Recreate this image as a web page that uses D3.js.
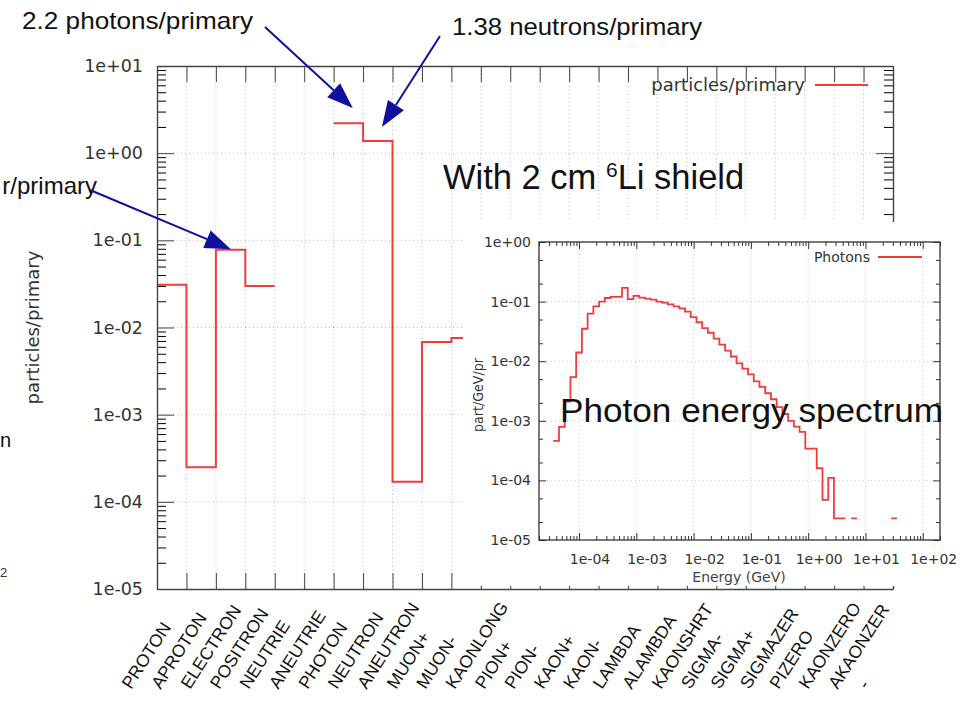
<!DOCTYPE html>
<html>
<head>
<meta charset="utf-8">
<script src="https://cdn.jsdelivr.net/npm/d3@7"></script>
<style>
body { margin: 0; background: #fff; }
svg { display: block; }
</style>
</head>
<body>
<script>
var width = 967, height = 726;

// main histogram: particles per primary, one step per particle type
var particles = ["PROTON", "APROTON", "ELECTRON", "POSITRON", "NEUTRIE", "ANEUTRIE", "PHOTON", "NEUTRON",
    "ANEUTRON", "MUON+", "MUON-", "KAONLONG", "PION+", "PION-", "KAON+", "KAON-", "LAMBDA", "ALAMBDA",
    "KAONSHRT", "SIGMA-", "SIGMA+", "SIGMAZER", "PIZERO", "KAONZERO", "AKAONZER", "-"];
// null = nothing scored (or hidden behind the inset)
var perPrimary = [0.031, 2.5e-4, 0.078, 0.030, null, null, 2.2, 1.38, 1.7e-4, 6.8e-3, 7.6e-3,
    null, null, null, null, null, null, null, null, null, null, null, null, null, null, null];
var mainYTicks = [1e-5, 1e-4, 1e-3, 1e-2, 1e-1, 1, 10];
var mainYLabels = ["1e-05", "1e-04", "1e-03", "1e-02", "1e-01", "1e+00", "1e+01"];

// inset: photon energy spectrum (bin centres in GeV, part/GeV/pr)
var photonEnergy = [3.98e-5, 5.01e-5, 6.31e-5, 7.94e-5, 1.00e-4, 1.26e-4, 1.58e-4, 2.00e-4, 2.51e-4, 3.16e-4,
    3.98e-4, 5.01e-4, 6.31e-4, 7.94e-4, 1.00e-3, 1.26e-3, 1.58e-3, 2.00e-3, 2.51e-3, 3.16e-3,
    3.98e-3, 5.01e-3, 6.31e-3, 7.94e-3, 1.00e-2, 1.26e-2, 1.58e-2, 2.00e-2, 2.51e-2, 3.16e-2,
    3.98e-2, 5.01e-2, 6.31e-2, 7.94e-2, 1.00e-1, 1.26e-1, 1.58e-1, 2.00e-1, 2.51e-1, 3.16e-1,
    3.98e-1, 5.01e-1, 6.31e-1, 7.94e-1, 1.00, 1.26, 1.58, 2.00, 2.51, 3.16,
    3.98, 5.01, 6.31, 7.94, 10.0, 12.6, 15.8, 20.0, 25.1, 31.6];
var photonFlux = [4.6e-4, 7.9e-4, 2.1e-3, 5.4e-3, 1.4e-2, 3.5e-2, 6.3e-2, 8.3e-2, 0.100, 0.115,
    0.120, 0.120, 0.170, 0.110, 0.125, 0.117, 0.112, 0.108, 0.100, 0.096,
    0.090, 0.083, 0.077, 0.068, 0.055, 0.045, 0.036, 0.030, 0.024, 0.019,
    0.015, 0.012, 0.0092, 0.0075, 0.0060, 0.0046, 0.0037, 0.0029, 0.0023, 0.0017,
    0.0013, 0.0010, 8.0e-4, 6.5e-4, 3.4e-4, 3.4e-4, 1.6e-4, 4.7e-5, 1.1e-4, 2.3e-5,
    2.3e-5, null, 2.3e-5, null, null, null, null, null, null, 2.3e-5];
var insetXTicks = [1e-4, 1e-3, 1e-2, 1e-1, 1, 10, 100];
var insetXLabels = ["1e-04", "1e-03", "1e-02", "1e-01", "1e+00", "1e+01", "1e+02"];
var insetYTicks = [1e-5, 1e-4, 1e-3, 1e-2, 1e-1, 1];
var insetYLabels = ["1e-05", "1e-04", "1e-03", "1e-02", "1e-01", "1e+00"];

var red = "#f03c3c", navy = "#10109c", axisColor = "#444";

var svg = d3.select("body").append("svg")
    .attr("width", width)
    .attr("height", height);

// ---------- main chart ----------
var main = {left: 157, right: 893, top: 66, bottom: 589};

var x = d3.scaleLinear().domain([0, particles.length - 1]).range([main.left, main.right]);
var y = d3.scaleLog().domain([1e-5, 10]).range([main.bottom, main.top]);

var minorY = [];
mainYTicks.slice(0, -1).forEach(d => d3.range(2, 10).forEach(m => minorY.push(d * m)));

var grid = svg.append("g")
    .attr("stroke", "#bbb")
    .attr("stroke-dasharray", "1,3");
grid.selectAll("line.gx")
    .data(d3.range(1, particles.length - 1))
    .enter().append("line")
    .attr("class", "gx")
    .attr("x1", d => x(d)).attr("x2", d => x(d))
    .attr("y1", main.top).attr("y2", main.bottom);
grid.selectAll("line.gy")
    .data(mainYTicks.slice(1, -1))
    .enter().append("line")
    .attr("class", "gy")
    .attr("x1", main.left).attr("x2", main.right)
    .attr("y1", d => y(d)).attr("y2", d => y(d));

function stepPath(bins, ys) {
    var p = "", open = false;
    bins.forEach(function (b) {
        if (b.v == null) { open = false; return; }
        p += (open ? "V" : "M" + b.x0 + ",") + ys(b.v) + "H" + b.x1;
        open = true;
    });
    return p;
}

var mainBins = particles.map((d, i) => ({x0: x(i), x1: x(i + 1), v: perPrimary[i]}));
svg.append("path")
    .attr("d", stepPath(mainBins, y))
    .attr("fill", "none")
    .attr("stroke", red)
    .attr("stroke-width", 2);

function styleAxis(g, size) {
    g.attr("color", axisColor)
        .attr("font-family", "DejaVu Sans")
        .attr("font-size", size);
    g.select(".domain").attr("stroke-width", 1.4);
    g.selectAll("text").attr("fill", "#333");
}

svg.append("g")
    .attr("transform", `translate(${main.left},0)`)
    .call(d3.axisLeft(y).tickValues(minorY).tickSize(-9).tickSizeOuter(0).tickFormat(""))
    .call(g => g.select(".domain").remove());
svg.append("g")
    .attr("transform", `translate(${main.left},0)`)
    .call(d3.axisLeft(y).tickValues(mainYTicks).tickSize(-17).tickSizeOuter(0).tickPadding(14)
        .tickFormat((d, i) => mainYLabels[i]))
    .call(styleAxis, 17.5);

svg.append("g")
    .attr("transform", `translate(${main.right},0)`)
    .call(d3.axisRight(y).tickValues(minorY).tickSize(-9).tickSizeOuter(0).tickFormat(""))
    .call(g => g.select(".domain").remove());
svg.append("g")
    .attr("transform", `translate(${main.right},0)`)
    .call(d3.axisRight(y).tickValues(mainYTicks).tickSize(-17).tickSizeOuter(0).tickFormat(""))
    .call(styleAxis, 16);

svg.append("g")
    .attr("transform", `translate(0,${main.bottom})`)
    .call(d3.axisBottom(x).tickValues(d3.range(particles.length)).tickSize(-16).tickSizeOuter(0).tickFormat(""))
    .call(styleAxis, 16);
svg.append("g")
    .attr("transform", `translate(0,${main.top})`)
    .call(d3.axisTop(x).tickValues(d3.range(particles.length)).tickSize(-16).tickSizeOuter(0).tickFormat(""))
    .call(styleAxis, 16);

svg.append("g")
    .selectAll("text")
    .data(particles)
    .enter().append("text")
    .attr("transform", (d, i) => `translate(${x(i) - 26},690) rotate(-57)`)
    .attr("font-family", "Liberation Sans")
    .attr("font-size", 17.5)
    .attr("fill", "#111")
    .text(d => d);

svg.append("text")
    .attr("transform", `translate(39,${(main.top + main.bottom) / 2}) rotate(-90)`)
    .attr("text-anchor", "middle")
    .attr("font-family", "DejaVu Sans")
    .attr("font-size", 18)
    .attr("fill", "#333")
    .text("particles/primary");

// legend
svg.append("text")
    .attr("x", 805).attr("y", 85).attr("dy", "0.35em")
    .attr("text-anchor", "end")
    .attr("font-family", "DejaVu Sans")
    .attr("font-size", 18)
    .attr("fill", "#333")
    .text("particles/primary");
svg.append("line")
    .attr("x1", 815).attr("x2", 868).attr("y1", 85).attr("y2", 85)
    .attr("stroke", red).attr("stroke-width", 2);

// ---------- inset: photon spectrum ----------
svg.append("rect")
    .attr("x", 463).attr("y", 222)
    .attr("width", width - 463).attr("height", 586 - 222)
    .attr("fill", "#fff");

var ins = {left: 539, right: 940, top: 242, bottom: 540};
var xi = d3.scaleLog().domain([2e-5, 2e2]).range([ins.left, ins.right]);
var yi = d3.scaleLog().domain([1e-5, 1]).range([ins.bottom, ins.top]);

var minorXi = [];
[1e-5, 1e-4, 1e-3, 1e-2, 1e-1, 1, 10, 100].forEach(d => d3.range(2, 10).forEach(m => {
    if (d * m >= 2e-5 && d * m <= 2e2) minorXi.push(d * m);
}));
var minorYi = [];
insetYTicks.slice(0, -1).forEach(d => [2, 5].forEach(m => minorYi.push(d * m)));

var igrid = svg.append("g")
    .attr("stroke", "#c8c8c8")
    .attr("stroke-dasharray", "1,3");
igrid.selectAll("line.gx")
    .data(insetXTicks)
    .enter().append("line")
    .attr("x1", d => xi(d)).attr("x2", d => xi(d))
    .attr("y1", ins.top).attr("y2", ins.bottom);
igrid.selectAll("line.gy")
    .data(insetYTicks.slice(1, -1))
    .enter().append("line")
    .attr("x1", ins.left).attr("x2", ins.right)
    .attr("y1", d => yi(d)).attr("y2", d => yi(d));

// histogram edges halfway (in log) between neighbouring bin centres
var px = photonEnergy.map(e => xi(e));
var photonBins = photonEnergy.map(function (e, i) {
    var half = (i > 0 ? px[i] - px[i - 1] : px[1] - px[0]) / 2;
    var halfR = (i < px.length - 1 ? px[i + 1] - px[i] : px[i] - px[i - 1]) / 2;
    return {x0: px[i] - half, x1: px[i] + halfR, v: photonFlux[i]};
});
svg.append("path")
    .attr("d", stepPath(photonBins, yi))
    .attr("fill", "none")
    .attr("stroke", red)
    .attr("stroke-width", 1.8);

function tickGroup(axis, tx, ty) {
    return svg.append("g")
        .attr("transform", `translate(${tx},${ty})`)
        .call(axis)
        .call(g => g.select(".domain").remove())
        .attr("color", "#333");
}
tickGroup(d3.axisBottom(xi).tickValues(minorXi).tickSize(-4).tickFormat(""), 0, ins.bottom);
tickGroup(d3.axisTop(xi).tickValues(minorXi).tickSize(-4).tickFormat(""), 0, ins.top);
tickGroup(d3.axisBottom(xi).tickValues(insetXTicks).tickSize(-7).tickFormat(""), 0, ins.bottom);
tickGroup(d3.axisTop(xi).tickValues(insetXTicks).tickSize(-7).tickFormat(""), 0, ins.top);
tickGroup(d3.axisLeft(yi).tickValues(minorYi).tickSize(-4).tickFormat(""), ins.left, 0);
tickGroup(d3.axisRight(yi).tickValues(minorYi).tickSize(-4).tickFormat(""), ins.right, 0);
tickGroup(d3.axisLeft(yi).tickValues(insetYTicks).tickSize(-7).tickFormat(""), ins.left, 0);
tickGroup(d3.axisRight(yi).tickValues(insetYTicks).tickSize(-7).tickFormat(""), ins.right, 0);

svg.append("rect")
    .attr("x", ins.left).attr("y", ins.top)
    .attr("width", ins.right - ins.left).attr("height", ins.bottom - ins.top)
    .attr("fill", "none")
    .attr("stroke", "#333")
    .attr("stroke-width", 1.3);

var itxt = svg.append("g")
    .attr("font-family", "DejaVu Sans")
    .attr("font-size", 14)
    .attr("fill", "#333");
itxt.selectAll("text.xl")
    .data(insetXTicks)
    .enter().append("text")
    .attr("x", d => xi(d) + 11)
    .attr("y", 564)
    .attr("text-anchor", "middle")
    .text((d, i) => insetXLabels[i]);
itxt.selectAll("text.yl")
    .data(insetYTicks)
    .enter().append("text")
    .attr("x", 531)
    .attr("y", d => yi(d))
    .attr("dy", "0.35em")
    .attr("text-anchor", "end")
    .text((d, i) => insetYLabels[i]);
itxt.append("text")
    .attr("x", 739).attr("y", 582)
    .attr("text-anchor", "middle")
    .attr("fill", "#444")
    .text("Energy (GeV)");
itxt.append("text")
    .attr("transform", "translate(483,395) rotate(-90)")
    .attr("text-anchor", "middle")
    .attr("textLength", 74)
    .attr("lengthAdjust", "spacingAndGlyphs")
    .text("part/GeV/pr");
itxt.append("text")
    .attr("x", 870).attr("y", 257).attr("dy", "0.35em")
    .attr("text-anchor", "end")
    .text("Photons");
svg.append("line")
    .attr("x1", 878).attr("x2", 922).attr("y1", 257).attr("y2", 257)
    .attr("stroke", red).attr("stroke-width", 1.8);

// ---------- slide annotations ----------
var notes = [
    {text: "2.2 photons/primary", x: 22, y: 29, anchor: "start", len: 231, from: [265, 27], tip: [6.65, 3.3]},
    {text: "1.38 neutrons/primary", x: 452, y: 35, anchor: "start", len: 250, from: [440, 36], tip: [7.64, 2.0]},
    {text: "r/primary", x: 97, y: 194, anchor: "end", len: null, from: [90, 190], tip: [2.51, 0.079]}
];

notes.forEach(function (n) {
    var t = svg.append("text")
        .attr("x", n.x).attr("y", n.y)
        .attr("text-anchor", n.anchor)
        .attr("font-family", "Liberation Sans")
        .attr("font-size", 24)
        .attr("fill", "#111")
        .text(n.text);
    if (n.len) t.attr("textLength", n.len).attr("lengthAdjust", "spacingAndGlyphs");

    var tx = x(n.tip[0]), ty = y(n.tip[1]);
    var dx = tx - n.from[0], dy = ty - n.from[1], L = Math.sqrt(dx * dx + dy * dy);
    var ux = dx / L, uy = dy / L, head = 26, hw = 9.5;
    var bx = tx - ux * head, by = ty - uy * head;
    svg.append("line")
        .attr("x1", n.from[0]).attr("y1", n.from[1])
        .attr("x2", bx).attr("y2", by)
        .attr("stroke", navy).attr("stroke-width", 2);
    svg.append("polygon")
        .attr("points", [[tx, ty], [bx - uy * hw, by + ux * hw], [bx + uy * hw, by - ux * hw]].join(" "))
        .attr("fill", navy);
});

var shield = svg.append("text")
    .attr("x", 443).attr("y", 189)
    .attr("font-family", "Liberation Sans")
    .attr("font-size", 34.5)
    .attr("fill", "#111");
shield.append("tspan").text("With 2 cm ");
shield.append("tspan").attr("font-size", 21).attr("dy", -12).text("6");
shield.append("tspan").attr("dy", 12).text("Li shield");

svg.append("text")
    .attr("x", 560).attr("y", 422)
    .attr("font-family", "Liberation Sans")
    .attr("font-size", 34)
    .attr("fill", "#111")
    .attr("textLength", 383)
    .attr("lengthAdjust", "spacingAndGlyphs")
    .text("Photon energy spectrum");

// fragments of neighbouring slide text at the left edge
svg.append("text")
    .attr("x", 0).attr("y", 447)
    .attr("font-family", "Liberation Sans")
    .attr("font-size", 20)
    .attr("fill", "#111")
    .text("n");
svg.append("text")
    .attr("x", 0).attr("y", 577)
    .attr("font-family", "Liberation Sans")
    .attr("font-size", 13)
    .attr("fill", "#333")
    .text("2");
</script>
</body>
</html>
